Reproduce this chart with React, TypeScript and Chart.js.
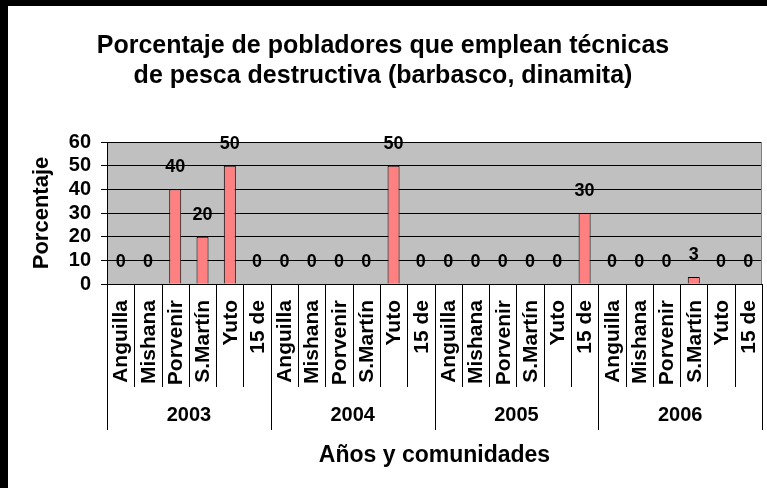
import React, { useEffect, useRef } from "react";
import { Chart, registerables } from "chart.js";

Chart.register(...registerables);

const titleLines = [
  "Porcentaje de pobladores que emplean técnicas",
  "de pesca destructiva (barbasco, dinamita)",
];
const yAxisTitle = "Porcentaje";
const xAxisTitle = "Años y comunidades";
const years = ["2003", "2004", "2005", "2006"];
const communities = ["Anguilla", "Mishana", "Porvenir", "S.Martín", "Yuto", "15 de"];
const values2003 = [0, 0, 40, 20, 50, 0];
const values2004 = [0, 0, 0, 0, 50, 0];
const values2005 = [0, 0, 0, 0, 0, 30];
const values2006 = [0, 0, 0, 3, 0, 0];
const yTicks = [0, 10, 20, 30, 40, 50, 60];

const FONT = "'Liberation Sans', Arial, sans-serif";

export default function App() {
  const ref = useRef<HTMLCanvasElement | null>(null);

  useEffect(() => {
    if (!ref.current) return;
    const labels = years.flatMap(() => communities);
    const data = [...values2003, ...values2004, ...values2005, ...values2006];
    const n = labels.length;
    const perGroup = communities.length;

    const decor = {
      id: "decor",
      beforeDraw(chart: any) {
        const { ctx, chartArea } = chart;
        ctx.save();
        ctx.fillStyle = "#FFFFFF";
        ctx.fillRect(0, 0, chart.width, chart.height);
        ctx.fillStyle = "#C0C0C0";
        ctx.fillRect(chartArea.left, chartArea.top, chartArea.right - chartArea.left, chartArea.bottom - chartArea.top);
        ctx.restore();
      },
      afterDraw(chart: any) {
        const { ctx, chartArea } = chart;
        const x = chart.scales.x;
        ctx.save();
        ctx.strokeStyle = "#808080";
        ctx.lineWidth = 1;
        ctx.beginPath();
        ctx.moveTo(Math.round(chartArea.right) - 0.5, chartArea.top);
        ctx.lineTo(Math.round(chartArea.right) - 0.5, chartArea.bottom);
        ctx.stroke();

        ctx.fillStyle = "#000";
        ctx.textAlign = "center";
        ctx.textBaseline = "middle";
        ctx.font = `bold 25px ${FONT}`;
        titleLines.forEach((t, i) => ctx.fillText(t, 375, 40 + i * 30));

        ctx.save();
        ctx.translate(34, 207);
        ctx.rotate(-Math.PI / 2);
        ctx.font = `bold 22px ${FONT}`;
        ctx.fillText(yAxisTitle, 0, 0);
        ctx.restore();

        ctx.strokeStyle = "#000";
        ctx.lineWidth = 1;
        const bottom = chartArea.bottom;
        for (let i = 0; i <= n; i++) {
          const px = Math.round(x.getPixelForValue(i - 0.5)) + 0.5;
          const isGroup = i % perGroup === 0;
          ctx.beginPath();
          ctx.moveTo(px, bottom);
          ctx.lineTo(px, isGroup ? bottom + 146 : bottom + 103);
          ctx.stroke();
        }

        ctx.font = `bold 21px ${FONT}`;
        ctx.textAlign = "right";
        ctx.textBaseline = "middle";
        labels.forEach((lab, i) => {
          const px = x.getPixelForValue(i);
          ctx.save();
          ctx.translate(px + 1, bottom + 16);
          ctx.rotate(-Math.PI / 2);
          ctx.fillText(lab, 0, 0);
          ctx.restore();
        });

        ctx.textAlign = "center";
        ctx.font = `bold 20px ${FONT}`;
        years.forEach((yr, g) => {
          const a = x.getPixelForValue(g * perGroup - 0.5);
          const b = x.getPixelForValue((g + 1) * perGroup - 0.5);
          ctx.fillText(yr, (a + b) / 2, bottom + 131);
        });

        ctx.font = `bold 23px ${FONT}`;
        ctx.fillText(xAxisTitle, (chartArea.left + chartArea.right) / 2, bottom + 172);
        ctx.restore();
      },
      afterDatasetsDraw(chart: any) {
        const { ctx } = chart;
        const meta = chart.getDatasetMeta(0);
        ctx.save();
        ctx.fillStyle = "#000";
        ctx.font = `bold 18px ${FONT}`;
        ctx.textAlign = "center";
        ctx.textBaseline = "middle";
        meta.data.forEach((el: any, i: number) => {
          ctx.fillText(String(data[i]), el.x, el.y - 22);
        });
        ctx.restore();
      },
    };

    const chart = new Chart(ref.current, {
      type: "bar",
      data: {
        labels,
        datasets: [
          {
            data,
            backgroundColor: "#FF8080",
            borderColor: "#000000",
            borderWidth: 1,
            barPercentage: 0.44,
            categoryPercentage: 1,
          },
        ],
      },
      options: {
        responsive: false,
        animation: false,
        devicePixelRatio: 1,
        layout: { padding: { top: 136, right: 5, left: 0, bottom: 0 } },
        plugins: { legend: { display: false }, title: { display: false }, tooltip: { enabled: false } },
        scales: {
          x: {
            offset: true,
            ticks: { display: false },
            grid: { display: false },
            border: { display: false },
            afterFit: (s: any) => {
              s.height = 204;
            },
          },
          y: {
            min: 0,
            max: 60,
            afterBuildTicks: (s: any) => {
              s.ticks = yTicks.map((v) => ({ value: v }));
            },
            ticks: {
              stepSize: 10,
              autoSkip: false,
              color: "#000",
              padding: 10,
              font: { family: FONT, size: 20, weight: "bold" },
            },
            grid: { color: "#000", lineWidth: 1, tickLength: 6, tickColor: "#000" },
            border: { display: true, color: "#000", width: 1 },
            afterFit: (s: any) => {
              s.width = 99;
            },
          },
        },
      },
      plugins: [decor],
    });
    return () => chart.destroy();
  }, []);

  return (
    <div
      style={{
        position: "fixed",
        left: 0,
        top: 0,
        width: 759,
        height: 482,
        borderLeft: "8px solid #000",
        borderTop: "6px solid #000",
        background: "#fff",
      }}
    >
      <canvas ref={ref} width={759} height={482} style={{ display: "block" }} />
    </div>
  );
}
